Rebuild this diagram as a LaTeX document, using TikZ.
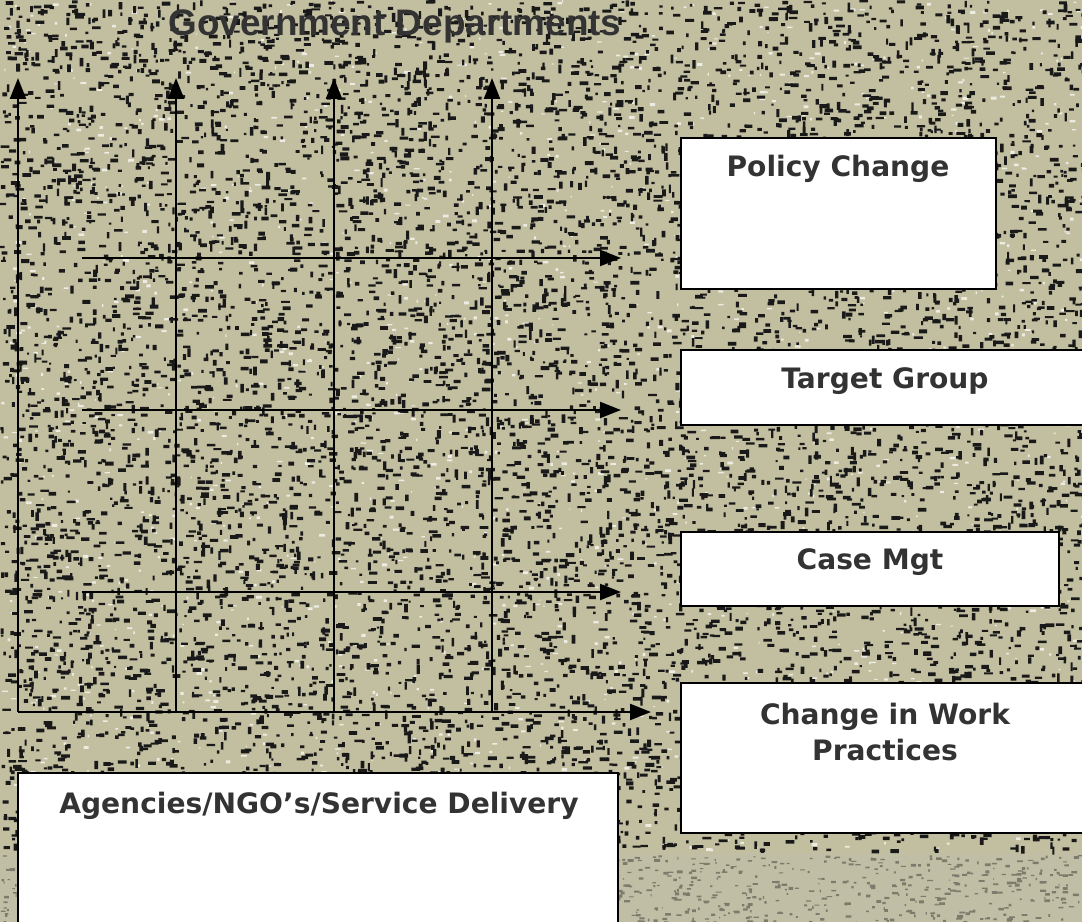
\documentclass[tikz,border=0pt]{standalone}
\usepackage{fontspec}
\setmainfont{DejaVu Sans}
\newfontfamily\headfont{Liberation Sans}
\usetikzlibrary{arrows.meta,positioning}

\definecolor{khaki}{RGB}{194,190,160}
\definecolor{khakilight}{RGB}{192,190,164}
\definecolor{inkgray}{RGB}{51,51,51}

\begin{document}
\begin{tikzpicture}[x=0.02cm,y=-0.02cm]
% Styles

   \tikzstyle{axis} = [line width=1.3pt, -{Triangle[length=0.42cm,width=0.32cm]}]
   \tikzstyle{box} = [draw, line width=1.4pt, fill=white]
   \tikzstyle{lbl} = [text=inkgray, font=\bfseries\fontsize{16pt}{21pt}\selectfont, align=center]

\useasboundingbox (0,0) rectangle (1082,922);

% granite backdrop
\fill[khaki] (0,0) rectangle (1082,853);
\fill[khakilight] (0,853) rectangle (1082,922);
\pgfmathsetseed{42}
\fill[white!70!khaki] \foreach \i in {1,...,1500} {({rnd*1082},{rnd*850}) rectangle ++({1+rnd*5},{1+rnd*2})};
\foreach \k in {1,...,3}
{
    \fill[black!90] \foreach \i in {1,...,2000} {({rnd*1082},{rnd*850}) rectangle ++({2+rnd*7},{2+rnd*2})};
}
\fill[black!90] \foreach \i in {1,...,2500} {({rnd*1082},{rnd*850}) rectangle ++({2+rnd*2},{2+rnd*7})};
\fill[black!35!khakilight] \foreach \i in {1,...,1000} {({rnd*1082},{855+rnd*67}) rectangle ++({1+rnd*5},{1+rnd*2})};

\node at (395,26) [text=inkgray, font=\headfont\bfseries\fontsize{21pt}{25pt}\selectfont] (govt) {Government Departments};

% vertical axes
\foreach \x in {18,176,334,492}
{
    \coordinate (vb\x) at (\x,712);
    \coordinate (vt\x) at (\x,78);
    \draw[axis] (vb\x)--(vt\x);
}

% horizontal axes
\foreach \y in {258,410,592}
{
    \coordinate (hl\y) at (82,\y);
    \coordinate (hr\y) at (621,\y);
    \draw[axis] (hl\y)--(hr\y);
}
\coordinate (xend) at (651,712);
\draw[axis] (vb18)--(xend);

% outcome boxes
\draw[box] (681,138) rectangle (996,289);
\draw[box] (681,350) rectangle (1092,425);
\draw[box] (681,532) rectangle (1059,606);
\draw[box] (681,683) rectangle (1092,833);
\draw[box] (18,773) rectangle (618,932);

\node at (838,169) [lbl] (policy) {Policy Change};
\node at (885,381) [lbl] (target) {Target Group};
\node at (870,562) [lbl] (casemgt) {Case Mgt};
\node at (885,732) [lbl] (practice) {Change in Work\\Practices};
\node at (319,806) [lbl] (agencies) {Agencies/NGO's/Service Delivery};
\end{tikzpicture}
\end{document}
